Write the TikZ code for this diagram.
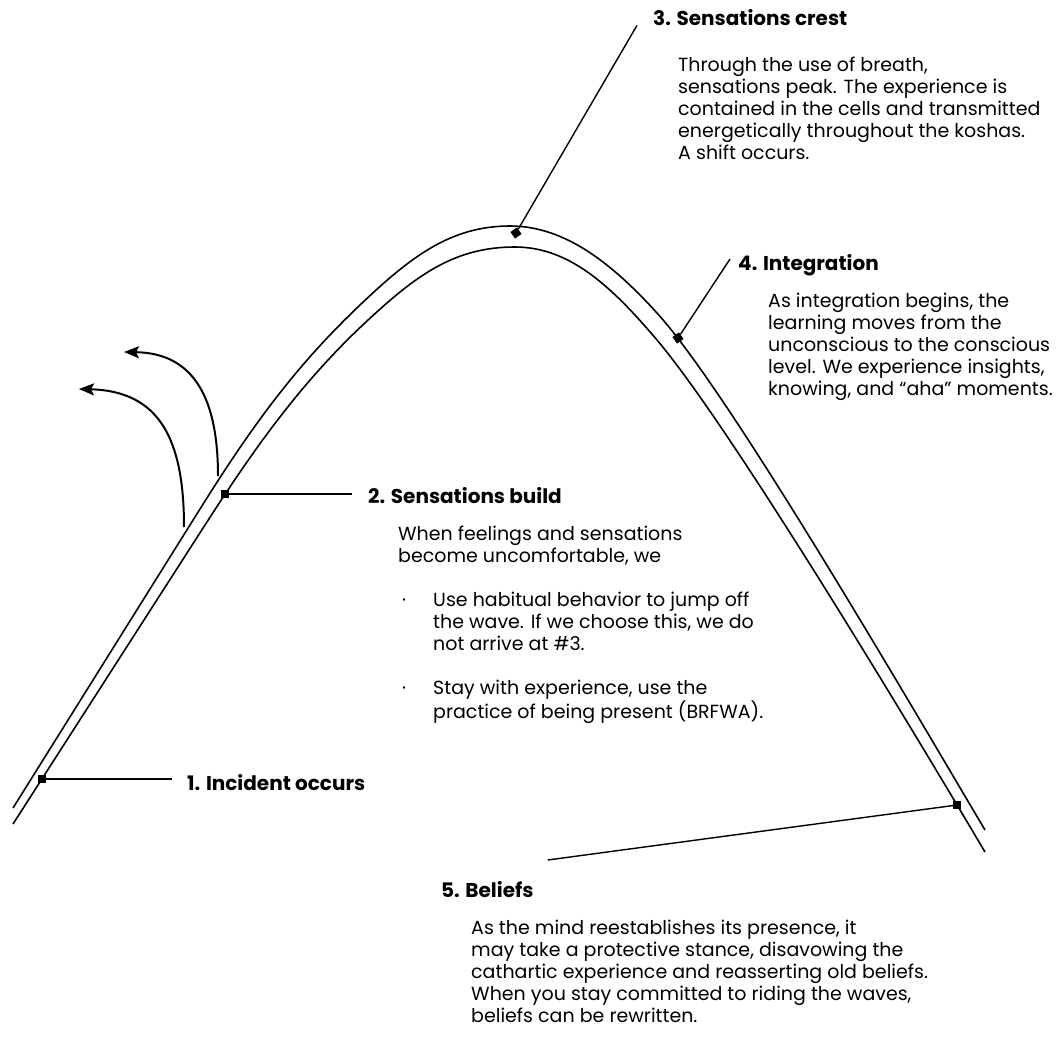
\documentclass[tikz,border=0pt]{standalone}
\usepackage{fontspec}
\setmainfont{Poppins}
\usetikzlibrary{arrows.meta,positioning}

\begin{document}
\begin{tikzpicture}[x=1pt,y=-1pt,
    wave/.style={line width=1.6pt},
    pin/.style={line width=1.4pt},
    jump/.style={line width=2pt,-{Stealth[length=15pt,width=12pt,inset=3pt]}},
    marker/.style={fill=black,inner sep=0pt,minimum size=8pt},
    head/.style={font=\bfseries\fontsize{20}{22}\selectfont,inner sep=0pt,anchor=base west},
    body/.style={font=\fontsize{19}{22}\selectfont,align=left,inner sep=0pt,anchor=north west}
]
\useasboundingbox (0,0) rectangle (1062,1044);
% The wave
\draw[wave] (13,808) -- (200,509) .. controls (255,421) and (298,364) .. (360,305)
    .. controls (410,257.5) and (450,226) .. (510,226)
    .. controls (565,226) and (612,263.5) .. (657,313)
    .. controls (727,390) and (895,678) .. (985,830);
\draw[wave] (13,824) -- (205,525) .. controls (260,439.4) and (305,378.7) .. (367,321)
    .. controls (417,274.5) and (455,247) .. (515,247)
    .. controls (570,247) and (612,287) .. (657,340)
    .. controls (727,422.6) and (895,700) .. (985,852);
% Markers
\node[marker] (m1) at (42,779) {};
\node[marker] (m2) at (225,494) {};
\node[marker,rotate=35] (m3) at (516,233) {};
\node[marker,rotate=35] (m4) at (678,338) {};
\node[marker] (m5) at (957,805) {};
% Headings
\node[head] (h1) at (187,790) {1. Incident occurs};
\node[head] (h2) at (368,503) {2. Sensations build};
\node[head] (h3) at (653,25) {3. Sensations crest};
\node[head] (h4) at (738,270) {4. Integration};
\node[head] (h5) at (441,897) {5. Beliefs};
\coordinate[left=16pt of h3.south west] (e3);
\coordinate[above left=11pt and 8pt of h4.base west] (e4);
\coordinate[above right=37pt and 14pt of h5.base east] (e5);
% Pointers
\draw[pin] (m1) -- (m1 -| h1.west) [shorten >=15pt];
\draw[pin,shorten >=16pt] (m2) -- (m2 -| h2.west);
\draw[pin] (m3) -- (e3);
\draw[pin] (m4) -- (e4);
\draw[pin] (m5) -- (e5);
% Texts
\node[body] (b3) at (678,57) {Through the use of breath,\\
    sensations peak. The experience is\\
    contained in the cells and transmitted\\
    energetically throughout the koshas.\\
    A shift occurs.};
\node[body] (b4) at (768,293) {As integration begins, the\\
    learning moves from the\\
    unconscious to the conscious\\
    level. We experience insights,\\
    knowing, and “aha” moments.};
\node[body] (b2) at (398,526) {When feelings and sensations\\
    become uncomfortable, we\\[22pt]
    \makebox[35pt][l]{\hspace{4pt}\textperiodcentered}Use habitual behavior to jump off\\
    \hspace*{35pt}the wave. If we choose this, we do\\
    \hspace*{35pt}not arrive at \#3.\\[22pt]
    \makebox[35pt][l]{\hspace{4pt}\textperiodcentered}Stay with experience, use the\\
    \hspace*{35pt}practice of being present (BRFWA).};
\node[body] (b5) at (471,920) {As the mind reestablishes its presence, it\\
    may take a protective stance, disavowing the\\
    cathartic experience and reasserting old beliefs.\\
    When you stay committed to riding the waves,\\
    beliefs can be rewritten.};
% Jumping off
\coordinate (j1) at (184,527);
\coordinate (k1) at (79,389);
\coordinate (j2) at (218,476);
\coordinate (k2) at (124,352);
\draw[jump] (j1) .. controls (184,440) and (160,391) .. (k1);
\draw[jump] (j2) .. controls (218,400) and (195,353) .. (k2);
\end{tikzpicture}
\end{document}
